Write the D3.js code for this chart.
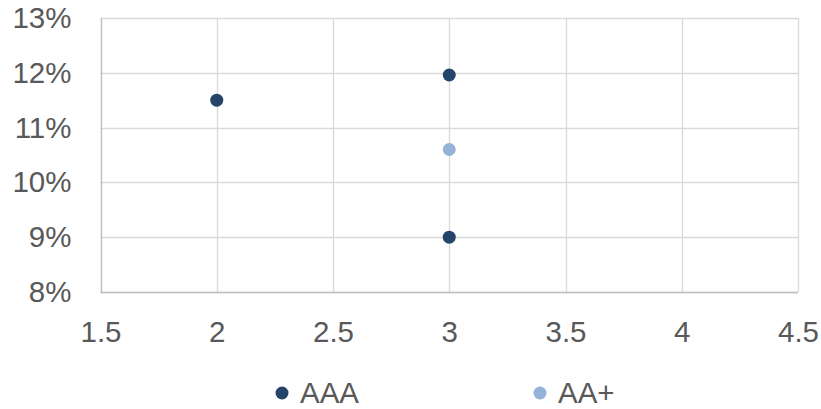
<!DOCTYPE html>
<html>
<head>
<meta charset="utf-8">
<script src="https://cdn.jsdelivr.net/npm/d3@7"></script>
<style>
  html, body { margin: 0; padding: 0; background: #ffffff; }
  svg { display: block; font-family: "Liberation Sans", Arial, sans-serif; }
</style>
</head>
<body>
<svg id="chart" width="821" height="409"></svg>
<script>
// Series data: x position and yield
const seriesNames = ["AAA", "AA+"];
const seriesColors = ["#264369", "#95B3D7"];
const aaaX = [2, 3, 3];
const aaaY = [0.115, 0.1196, 0.09];
const aaPlusX = [3];
const aaPlusY = [0.106];

// Axis ticks
const xTicks = [1.5, 2, 2.5, 3, 3.5, 4, 4.5];
const yTicks = [0.08, 0.09, 0.10, 0.11, 0.12, 0.13];

const svg = d3.select("#chart");
const margin = { left: 100.5, right: 23, top: 18, bottom: 117 };
const W = 821, H = 409;
const fontSize = 29.5;

const x = d3.scaleLinear().domain([1.5, 4.5]).range([margin.left, W - margin.right]);
const y = d3.scaleLinear().domain([0.08, 0.13]).range([H - margin.bottom, margin.top]);

const textColor = "#595959";
const gridColor = "#d9d9d9";
const axisColor = "#bfbfbf";

// Gridlines
svg.append("g").selectAll("line.v").data(xTicks).join("line")
  .attr("x1", d => Math.round(x(d)) + 0.5).attr("x2", d => Math.round(x(d)) + 0.5)
  .attr("y1", y(0.13)).attr("y2", y(0.08))
  .attr("stroke", gridColor).attr("stroke-width", 1.3);
svg.append("g").selectAll("line.h").data(yTicks).join("line")
  .attr("y1", d => Math.round(y(d)) + 0.5).attr("y2", d => Math.round(y(d)) + 0.5)
  .attr("x1", x(1.5)).attr("x2", x(4.5))
  .attr("stroke", gridColor).attr("stroke-width", 1.3);

// Axis lines
svg.append("line")
  .attr("x1", x(1.5)).attr("x2", x(4.5))
  .attr("y1", Math.round(y(0.08)) + 0.5).attr("y2", Math.round(y(0.08)) + 0.5)
  .attr("stroke", axisColor).attr("stroke-width", 1.3);
svg.append("line")
  .attr("x1", Math.round(x(1.5)) + 0.5).attr("x2", Math.round(x(1.5)) + 0.5)
  .attr("y1", y(0.13)).attr("y2", y(0.08))
  .attr("stroke", axisColor).attr("stroke-width", 1.3);

// Axis labels via d3 axes (domain and tick marks hidden)
const xAxis = svg.append("g")
  .attr("transform", `translate(0,${y(0.08)})`)
  .call(d3.axisBottom(x).tickValues(xTicks).tickSize(0).tickPadding(29).tickFormat(d3.format("")));
xAxis.select(".domain").remove();
xAxis.selectAll("text").attr("fill", textColor).attr("font-size", fontSize)
  .attr("font-family", "Liberation Sans, Arial, sans-serif");

const yAxis = svg.append("g")
  .attr("transform", `translate(${x(1.5)},0)`)
  .call(d3.axisLeft(y).tickValues(yTicks).tickSize(0).tickPadding(29).tickFormat(d3.format(".0%")));
yAxis.select(".domain").remove();
yAxis.selectAll("text").attr("fill", textColor).attr("font-size", fontSize)
  .attr("font-family", "Liberation Sans, Arial, sans-serif");

// Points
const aaaData = aaaX.map((v, i) => ({ x: v, y: aaaY[i] }));
const aaPlusData = aaPlusX.map((v, i) => ({ x: v, y: aaPlusY[i] }));

svg.append("g").selectAll("circle").data(aaaData).join("circle")
  .attr("cx", d => x(d.x)).attr("cy", d => y(d.y)).attr("r", 6.5)
  .attr("fill", seriesColors[0]);
svg.append("g").selectAll("circle").data(aaPlusData).join("circle")
  .attr("cx", d => x(d.x)).attr("cy", d => y(d.y)).attr("r", 6.5)
  .attr("fill", seriesColors[1]);

// Legend
const legendX = [282, 540];
const legend = svg.append("g").selectAll("g").data(seriesNames).join("g")
  .attr("transform", (d, i) => `translate(${legendX[i]},393)`);
legend.append("circle").attr("r", 6.5).attr("fill", (d, i) => seriesColors[i]);
legend.append("text").attr("x", 18).attr("y", 9.5)
  .attr("font-size", fontSize).attr("fill", textColor)
  .attr("font-family", "Liberation Sans, Arial, sans-serif").text(d => d);
</script>
</body>
</html>
